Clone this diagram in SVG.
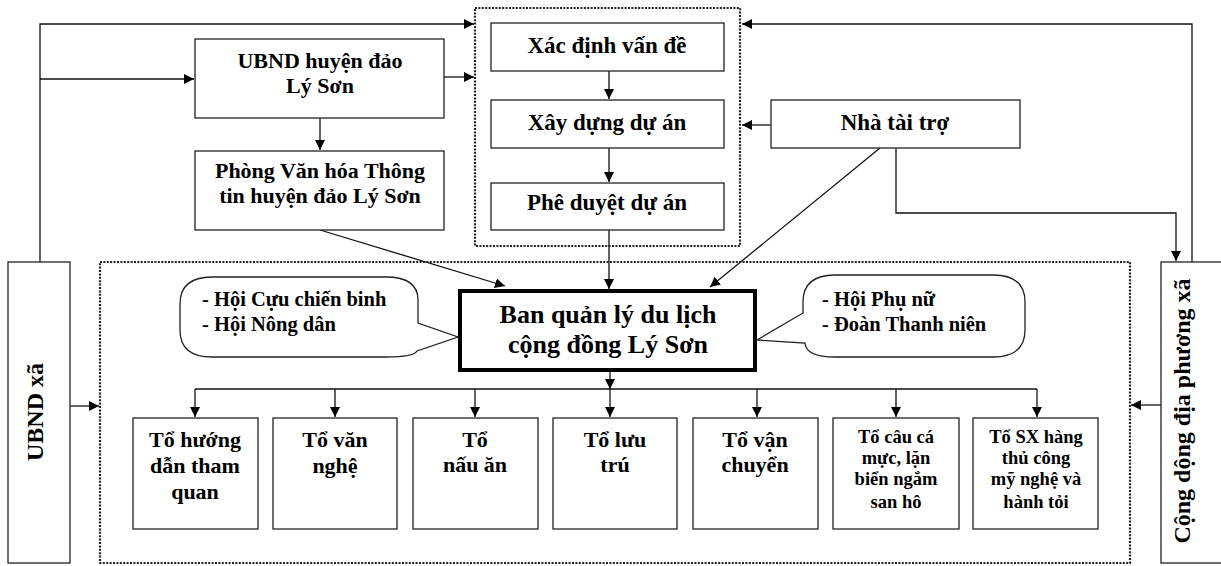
<svg xmlns="http://www.w3.org/2000/svg" width="1221" height="566" viewBox="0 0 1221 566">
<style>
.box{fill:#fff;stroke:#222;stroke-width:1.3}
.thick{fill:#fff;stroke:#000;stroke-width:4}
.dot{fill:none;stroke:#222;stroke-width:2.2;stroke-dasharray:2 1.4}
.ln{fill:none;stroke:#111;stroke-width:1.3}
.t{font-family:"Liberation Serif","Times New Roman",serif;font-weight:bold;fill:#000;text-anchor:middle}
.s23{font-size:23px}
.s22{font-size:22px}
.s20{font-size:20.5px}
.s19{font-size:18.5px}
.s26{font-size:26px}
.sv{font-size:24px}
.l{text-anchor:start}
</style>
<defs>
<marker id="ar" viewBox="0 0 10 10" refX="10" refY="5" markerWidth="10" markerHeight="10" markerUnits="userSpaceOnUse" orient="auto">
<path d="M0,0 L10,5 L0,10 Z" fill="#000"/>
</marker>
</defs>
<rect width="1221" height="566" fill="#fff"/>

<g id="groups">
<rect id="projectGroup" class="dot" x="475" y="8" width="265" height="238"/>
<rect id="mainGroup" class="dot" x="100" y="262" width="1030" height="301"/>
</g>

<g id="connectors">
<path class="ln" d="M40,262 V24 H474" marker-end="url(#ar)"/>
<path class="ln" d="M40,79 H194" marker-end="url(#ar)"/>
<path class="ln" d="M444,77 H474" marker-end="url(#ar)"/>
<path class="ln" d="M320,118 V150" marker-end="url(#ar)"/>
<path class="ln" d="M320,230 L505,286" marker-end="url(#ar)"/>
<path class="ln" d="M609,71 V99" marker-end="url(#ar)"/>
<path class="ln" d="M609,148 V182" marker-end="url(#ar)"/>
<path class="ln" d="M609,230 V289" marker-end="url(#ar)"/>
<path class="ln" d="M1192,262 V24 H742" marker-end="url(#ar)"/>
<path class="ln" d="M771,125 H742" marker-end="url(#ar)"/>
<path class="ln" d="M880,148 L710,287" marker-end="url(#ar)"/>
<path class="ln" d="M896,148 V213 H1176 V261" marker-end="url(#ar)"/>
<path class="ln" d="M70,406 H99" marker-end="url(#ar)"/>
<path class="ln" d="M1161,405 H1131" marker-end="url(#ar)"/>
<path class="ln" d="M610,372 V389" marker-end="url(#ar)"/>
<path class="ln" d="M195,389 H1037"/>
<path class="ln" d="M195,389 V417" marker-end="url(#ar)"/>
<path class="ln" d="M335,389 V417" marker-end="url(#ar)"/>
<path class="ln" d="M475,389 V417" marker-end="url(#ar)"/>
<path class="ln" d="M610,389 V417" marker-end="url(#ar)"/>
<path class="ln" d="M757,389 V417" marker-end="url(#ar)"/>
<path class="ln" d="M896,389 V417" marker-end="url(#ar)"/>
<path class="ln" d="M1037,389 V417" marker-end="url(#ar)"/>
</g>

<g id="ubndHuyen">
<rect class="box" x="195" y="39" width="249" height="79"/>
<text class="t s22" x="320" y="68">UBND huyện đảo</text>
<text class="t s22" x="320" y="93">Lý Sơn</text>
</g>
<g id="phongVanHoa">
<rect class="box" x="195" y="151" width="249" height="79"/>
<text class="t s22" x="320" y="178">Phòng Văn hóa Thông</text>
<text class="t s22" x="320" y="203">tin huyện đảo Lý Sơn</text>
</g>
<g id="xacDinh">
<rect class="box" x="491" y="23" width="233" height="48"/>
<text class="t s23" x="607" y="53">Xác định vấn đề</text>
</g>
<g id="xayDung">
<rect class="box" x="491" y="100" width="233" height="48"/>
<text class="t s23" x="607" y="130">Xây dựng dự án</text>
</g>
<g id="pheDuyet">
<rect class="box" x="491" y="183" width="233" height="47"/>
<text class="t s23" x="607" y="210">Phê duyệt dự án</text>
</g>
<g id="nhaTaiTro">
<rect class="box" x="771" y="100" width="249" height="48"/>
<text class="t s23" x="895" y="130">Nhà tài trợ</text>
</g>
<g id="ubndXa">
<rect class="box" x="8" y="262" width="62" height="301"/>
<text class="t sv" transform="translate(43,412) rotate(-90)">UBND xã</text>
</g>
<g id="congDong">
<rect class="box" x="1161" y="262" width="70" height="301"/>
<text class="t sv" transform="translate(1190,411) rotate(-90)">Cộng dộng địa phương xã</text>
</g>
<g id="calloutLeft">
<path class="box" d="M212,277 H386 Q418,277 418,300 V323 L458,337 L417,351 Q414,357 386,357 H212 Q180,357 180,330 V304 Q180,277 212,277 Z"/>
<text class="t s20 l" x="202" y="306">- Hội Cựu chiến binh</text>
<text class="t s20 l" x="202" y="331">- Hội Nông dân</text>
</g>
<g id="calloutRight">
<path class="box" d="M835,275 H993 Q1025,275 1025,302 V330 Q1025,357 993,357 H835 Q806,357 805,343 L757,340 L803,313 V302 Q803,275 835,275 Z"/>
<text class="t s20 l" x="822" y="306">- Hội Phụ nữ</text>
<text class="t s20 l" x="822" y="331">- Đoàn Thanh niên</text>
</g>
<g id="banQuanLy">
<rect class="thick" x="460" y="291" width="295" height="79"/>
<text class="t s26" x="608" y="323">Ban quản lý du lịch</text>
<text class="t s26" x="608" y="353">cộng đồng Lý Sơn</text>
</g>
<g id="to1">
<rect class="box" x="133" y="418" width="125" height="111"/>
<text class="t s22" x="195" y="447">Tổ hướng</text>
<text class="t s22" x="195" y="473">dẫn tham</text>
<text class="t s22" x="195" y="499">quan</text>
</g>
<g id="to2">
<rect class="box" x="273" y="418" width="124" height="111"/>
<text class="t s22" x="335" y="447">Tổ văn</text>
<text class="t s22" x="335" y="473">nghệ</text>
</g>
<g id="to3">
<rect class="box" x="413" y="418" width="125" height="111"/>
<text class="t s22" x="475" y="447">Tổ</text>
<text class="t s22" x="475" y="472">nấu ăn</text>
</g>
<g id="to4">
<rect class="box" x="553" y="418" width="124" height="111"/>
<text class="t s22" x="615" y="447">Tổ lưu</text>
<text class="t s22" x="615" y="472">trú</text>
</g>
<g id="to5">
<rect class="box" x="693" y="418" width="125" height="111"/>
<text class="t s22" x="755" y="447">Tổ vận</text>
<text class="t s22" x="755" y="472">chuyển</text>
</g>
<g id="to6">
<rect class="box" x="833" y="418" width="126" height="111"/>
<text class="t s19" x="896" y="443">Tổ câu cá</text>
<text class="t s19" x="896" y="464">mực, lặn</text>
<text class="t s19" x="896" y="485">biển ngắm</text>
<text class="t s19" x="896" y="508">san hô</text>
</g>
<g id="to7">
<rect class="box" x="973" y="418" width="125" height="111"/>
<text class="t s19" x="1036" y="443">Tổ SX hàng</text>
<text class="t s19" x="1036" y="464">thủ công</text>
<text class="t s19" x="1036" y="485">mỹ nghệ và</text>
<text class="t s19" x="1036" y="508">hành tỏi</text>
</g>
</svg>
